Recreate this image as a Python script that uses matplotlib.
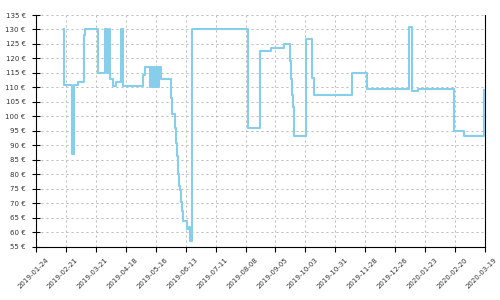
import matplotlib
matplotlib.use("Agg")
import matplotlib.pyplot as plt
import matplotlib.transforms as mtransforms
import pandas as pd

dates = [
    "2019-02-19 00:00", "2019-02-19 12:00", "2019-02-26 12:00", "2019-02-28 04:00",
    "2019-03-01 00:00", "2019-03-04 12:00", "2019-03-10 00:00", "2019-03-11 00:00",
    "2019-03-23 00:00", "2019-03-30 00:00", "2019-03-31 12:00", "2019-04-02 00:00",
    "2019-04-03 00:00", "2019-04-05 18:00", "2019-04-09 00:00", "2019-04-13 12:00",
    "2019-04-15 12:00", "2019-05-04 00:00", "2019-05-06 00:00", "2019-05-10 12:00",
    "2019-05-12 00:00", "2019-05-13 12:00", "2019-05-14 12:00", "2019-05-15 12:00",
    "2019-05-17 00:00", "2019-05-18 12:00", "2019-05-19 08:00", "2019-05-21 00:00",
    "2019-05-30 00:00", "2019-05-30 12:00", "2019-05-31 16:00", "2019-06-02 14:00",
    "2019-06-03 14:00", "2019-06-04 12:00", "2019-06-05 16:00", "2019-06-06 16:00",
    "2019-06-07 22:00", "2019-06-08 12:00", "2019-06-09 20:00", "2019-06-10 05:00",
    "2019-06-13 22:00", "2019-06-16 07:00", "2019-06-16 22:00", "2019-06-18 19:00",
    "2019-08-10 00:00", "2019-08-21 10:00", "2019-08-31 17:00", "2019-09-12 19:00",
    "2019-09-18 10:00", "2019-09-19 07:00", "2019-09-20 07:00", "2019-09-21 05:00",
    "2019-09-22 02:00", "2019-09-22 19:00", "2019-10-03 10:00", "2019-10-08 17:00",
    "2019-10-09 14:00", "2019-10-10 14:00", "2019-11-15 10:00", "2019-11-29 10:00",
    "2020-01-07 17:00", "2020-01-10 12:00", "2020-01-11 02:00", "2020-01-16 12:00",
    "2020-02-18 17:00", "2020-02-28 02:00", "2020-03-18 00:00",
]
prices = [
    130, 111, 87, 89,
    111, 112, 128, 130,
    115, 130, 115, 130,
    113, 110.5, 112, 130,
    110.5, 114.3, 117, 110,
    117, 110, 117, 110,
    117, 110, 117, 113,
    112, 106.4, 101, 96,
    91, 86.4, 80, 76,
    74.7, 70.6, 67.5, 64.1,
    61.2, 62, 57.1, 130,
    96, 122.6, 123.7, 125.1,
    119, 113, 107.4, 103.4,
    98.1, 93.4, 126.7, 119.1,
    113.4, 107.5, 115.1, 109.4,
    131, 109.4, 108.8, 109.4,
    95.1, 93.2, 109.1,
]
x_ticks = ["2019-01-24", "2019-02-21", "2019-03-21", "2019-04-18", "2019-05-16",
           "2019-06-13", "2019-07-11", "2019-08-08", "2019-09-05", "2019-10-03",
           "2019-10-31", "2019-11-28", "2019-12-26", "2020-01-23", "2020-02-20",
           "2020-03-19"]
y_ticks = list(range(55, 136, 5))

plt.rcParams['font.family'] = ['DejaVu Sans']
fig = plt.figure(figsize=(5, 3), dpi=100)
ax = fig.add_axes([0.072, 0.177, 0.898, 0.773])

dt = pd.to_datetime(dates)
ax.plot(dt, prices, drawstyle="steps-post", color="#87CEEB", lw=1.5, zorder=3)

xt = pd.to_datetime(x_ticks)
ax.set_xlim(xt[0], xt[-1])
ax.set_ylim(55, 135)
ax.set_xticks(xt)
ax.set_xticklabels(x_ticks)
ax.set_yticks(y_ticks)
ax.set_yticklabels([f"{v} €" for v in y_ticks])

ax.grid(True, color="#bbbbbb", lw=0.72, linestyle=(0, (2, 3)), zorder=1)
ax.spines['top'].set_visible(False)
for s in ['left', 'bottom', 'right']:
    ax.spines[s].set_linewidth(0.8)
    ax.spines[s].set_color('black')

ax.tick_params(axis='y', direction='inout', length=5.8, width=0.8, labelsize=5,
               labelcolor='#333333', pad=4.5)
ax.tick_params(axis='x', direction='out', length=3.5, width=0.8, labelsize=5,
               labelcolor='#333333', pad=3.5)
offset = mtransforms.ScaledTranslation(-3/100, 0, fig.dpi_scale_trans)
for lab in ax.get_xticklabels():
    lab.set_rotation(45)
    lab.set_ha('center')
    lab.set_transform(lab.get_transform() + offset)

fig.savefig("out.png", dpi=100)
